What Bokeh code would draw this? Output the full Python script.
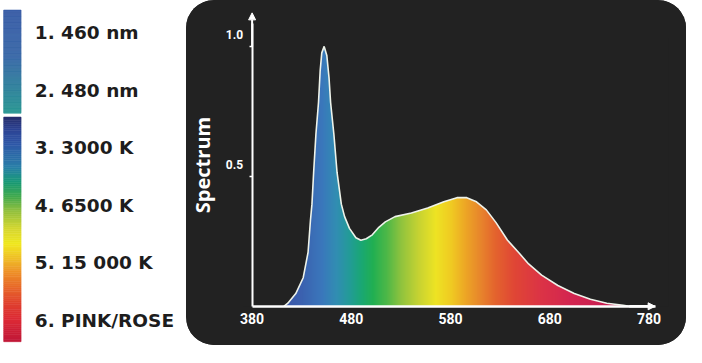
import numpy as np
from bokeh.plotting import figure
from bokeh.layouts import row
from bokeh.models import Range1d, FixedTicker, Arrow, NormalHead, Label, CustomJSTickFormatter
from bokeh.embed import file_html
from bokeh.resources import INLINE
from bokeh.core.properties import value

# ---------------- data ----------------
wavelength = [412, 416, 424, 431.5, 436.4, 438.8, 440.3, 442, 444.3, 446.9, 448.6, 450.2,
              452.6, 455.3, 457.5, 459.1, 462.4, 465.6, 469.9, 473.2, 478.1, 484.6, 489.6,
              495, 501.1, 507.7, 514.2, 524, 540.5, 556.9, 573.2, 586.4, 596.3, 606.1,
              616, 625.8, 637.2, 648.8, 658.6, 671.7, 688.1, 704.6, 720.9, 737.4, 753.8, 760]
spectrum = [0.0, 0.012, 0.049, 0.110, 0.208, 0.331, 0.393, 0.515, 0.662, 0.784, 0.907, 0.975,
            1.0, 0.965, 0.88, 0.784, 0.662, 0.515, 0.393, 0.345, 0.300, 0.264, 0.254,
            0.260, 0.275, 0.304, 0.325, 0.345, 0.359, 0.378, 0.402, 0.418, 0.418, 0.402,
            0.371, 0.322, 0.255, 0.206, 0.163, 0.120, 0.080, 0.049, 0.027, 0.012, 0.004, 0.0]

x_ticks = [380, 480, 580, 680, 780]
y_ticks = [0.5, 1.0]
y_tick_labels = ["0.5", "1.0"]
y_axis_title = "Spectrum"

legend_labels = ["1. 460 nm", "2. 480 nm", "3. 3000 K", "4. 6500 K", "5. 15 000 K", "6. PINK/ROSE"]

# colour stops (style)
grad_wl = [410, 430, 450, 465, 478, 490, 502, 515, 530, 548, 565, 580, 595, 610, 625, 645, 670, 700, 740, 790]
grad_col = ["#3d57a8", "#3b62b0", "#3a78bc", "#318fb2", "#239c98", "#1aa874", "#22b052", "#4cb848",
            "#90c43e", "#c8d432", "#eee424", "#f0cc22", "#eda626", "#e8862c", "#e4642e", "#e04636",
            "#dc3446", "#d42650", "#c81e52", "#c41a50"]

bar1_pos = [10, 60, 118]
bar1_col = ["#3a5ea8", "#3a6aa8", "#2a9894"]
bar2_pos = [122, 135, 150, 175, 190, 205, 220, 240, 255, 270, 285, 300, 318, 335, 357]
bar2_col = ["#262c6a", "#2e4494", "#3058a8", "#2a80a8", "#1a9a78", "#40aa50", "#90c040", "#d8d830",
            "#f0e820", "#f0c028", "#ee9028", "#e86a2a", "#e04030", "#dc2a36", "#c01838"]


def hex2rgb(h):
    h = h.lstrip("#")
    return [int(h[i:i + 2], 16) for i in (0, 2, 4)]


def interp_colors(pos, cols, samples):
    rgb = np.array([hex2rgb(c) for c in cols], dtype=float)
    out = np.stack([np.interp(samples, pos, rgb[:, k]) for k in range(3)], axis=1)
    return out.astype(np.uint8)


H = 345

# ---------------- legend (left) ----------------
lp = figure(width=186, height=H, x_range=Range1d(0, 190), y_range=Range1d(361, 0),
            x_axis_type=None, y_axis_type=None, toolbar_location=None, output_backend="svg",
            min_border=0)
lp.outline_line_color = None
lp.grid.visible = False
lp.background_fill_color = "white"
lp.border_fill_color = "white"


def gradient_bar(fig, pos, cols, n=120):
    edges = np.linspace(pos[0], pos[-1], n + 1)
    mids = 0.5 * (edges[:-1] + edges[1:])
    rgb = interp_colors(pos, cols, mids)
    hexes = ["#%02x%02x%02x" % tuple(c) for c in rgb]
    fig.quad(left=3.3, right=21, top=edges[:-1], bottom=edges[1:], fill_color=hexes,
             line_color=hexes, line_width=0.6)


gradient_bar(lp, bar1_pos, bar1_col)
gradient_bar(lp, bar2_pos, bar2_col)

label_y = [34 + 60.1 * i for i in range(len(legend_labels))]
lp.text(x=[35] * len(legend_labels), y=label_y, text=legend_labels,
        text_font=value("DejaVu Sans"), text_font_style="bold", text_font_size="18.5px",
        text_color="#1d1d1d", text_baseline="middle", text_align="left")

# ---------------- spectrum panel (right) ----------------
x_end = 786.1      # arrow tip of the wavelength axis
y_end = 1.129      # arrow tip of the spectrum axis
p = figure(width=500, height=H, x_range=Range1d(313.9, 817.7), y_range=Range1d(-0.1508, 1.1766),
           toolbar_location=None, output_backend="svg", min_border=0)
p.styles = {"border-radius": "28px", "overflow": "hidden", "background-color": "#222222"}
p.background_fill_color = "#222222"
p.border_fill_color = "#222222"
p.outline_line_color = None
p.grid.visible = False

# gradient fill under the curve
cols = np.linspace(380, x_end, 800)
rgb = interp_colors(grad_wl, grad_col, cols)
img = np.zeros((1, len(cols)), dtype=np.uint32)
view = img.view(dtype=np.uint8).reshape((1, len(cols), 4))
view[0, :, 0] = rgb[:, 0]
view[0, :, 1] = rgb[:, 1]
view[0, :, 2] = rgb[:, 2]
view[0, :, 3] = 255
p.image_rgba(image=[img], x=380, y=0, dw=x_end - 380, dh=max(spectrum))
# mask above the curve
mask_x = [370] + wavelength + [800]
mask_y = [0.0] + spectrum + [0.0]
p.varea(x=mask_x, y1=mask_y, y2=max(spectrum) + 0.03, fill_color="#222222")
p.line(wavelength, spectrum, line_color="#eef3ea", line_width=1.6)

# axes (placed inside the panel at the data origin)
p.xaxis.fixed_location = 0
p.xaxis.bounds = (380, x_end)
p.xaxis.ticker = FixedTicker(ticks=x_ticks)
p.xaxis.axis_line_color = "white"
p.xaxis.axis_line_width = 2.5
p.xaxis.major_tick_line_color = None
p.xaxis.minor_tick_line_color = None
p.xaxis.major_label_text_color = "white"
p.xaxis.major_label_text_font = "Roboto"
p.xaxis.major_label_text_font_style = "bold"
p.xaxis.major_label_text_font_size = "14px"
p.xaxis.major_label_standoff = 1

p.yaxis.fixed_location = 380
p.yaxis.bounds = (0, 1.09)
p.yaxis.ticker = FixedTicker(ticks=y_ticks)
p.yaxis.formatter = CustomJSTickFormatter(code="return ''")
p.yaxis.axis_line_color = "white"
p.yaxis.axis_line_width = 2
p.yaxis.major_tick_line_color = "white"
p.yaxis.major_tick_line_width = 1.5
p.yaxis.major_tick_out = 3
p.yaxis.major_tick_in = 0
p.yaxis.minor_tick_line_color = None
p.yaxis.major_label_standoff = 0
p.yaxis.axis_label = y_axis_title
p.yaxis.axis_label_text_color = "white"
p.yaxis.axis_label_text_font = "Open Sans"
p.yaxis.axis_label_text_font_style = "bold"
p.yaxis.axis_label_text_font_size = "20px"
p.yaxis.axis_label_standoff = 34

for v, t in zip(y_ticks, y_tick_labels):
    p.add_layout(Label(x=380, y=v, text=t, x_offset=-9, y_offset=11.5, text_align="right",
                       text_baseline="middle", text_color="white",
                       text_font="Roboto", text_font_style="bold",
                       text_font_size="12px"))

head = dict(size=7, fill_color="white", line_color="white")
p.add_layout(Arrow(end=NormalHead(**head), x_start=380, y_start=1.0, x_end=380, y_end=y_end,
                   line_color="white", line_width=2))
p.add_layout(Arrow(end=NormalHead(**head), x_start=760, y_start=0, x_end=x_end, y_end=0,
                   line_color="white", line_width=2.5))

layout = row(lp, p)
open("out.html", "w").write(file_html(layout, INLINE))
